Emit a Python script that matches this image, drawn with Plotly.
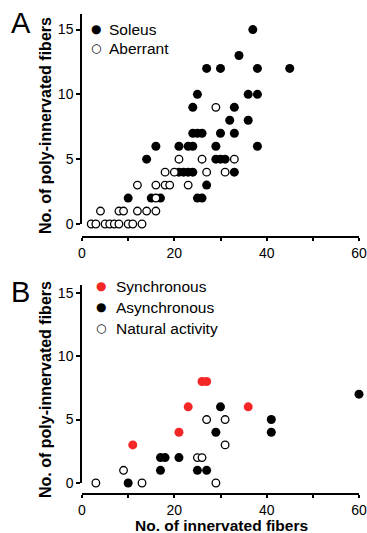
import plotly.graph_objects as go

# ---------------- Panel A data ----------------
soleus_x = [10, 15, 17, 25, 26,
            27,
            21, 22, 23, 24, 33,
            14, 29, 30, 31,
            16, 21, 23, 24, 29, 38,
            24, 25, 26, 30, 33,
            32, 36,
            24, 33,
            25, 36, 38,
            27, 30, 38, 45,
            34,
            37]
soleus_y = [2, 2, 2, 2, 2,
            3,
            4, 4, 4, 4, 4,
            5, 5, 5, 5,
            6, 6, 6, 6, 6, 6,
            7, 7, 7, 7, 7,
            8, 8,
            9, 9,
            10, 10, 10,
            12, 12, 12, 12,
            13,
            15]

aberrant_x = [2, 3, 5, 6, 7, 8, 10, 11, 13,
              4, 8, 9, 12, 14, 16,
              16,
              12, 16, 18, 19, 23,
              18, 20, 27, 31,
              21, 26, 33,
              29]
aberrant_y = [0, 0, 0, 0, 0, 0, 0, 0, 0,
              1, 1, 1, 1, 1, 1,
              2,
              3, 3, 3, 3, 3,
              4, 4, 4, 4,
              5, 5, 5,
              9]

# ---------------- Panel B data ----------------
sync_x = [11, 21, 23, 26, 27, 36]
sync_y = [3, 4, 6, 8, 8, 6]

async_x = [10, 17, 17, 18, 21, 25, 27, 29, 30, 41, 41, 60]
async_y = [0, 1, 2, 2, 2, 1, 1, 4, 6, 5, 4, 7]

natural_x = [3, 9, 13, 25, 26, 27, 29, 31, 31]
natural_y = [0, 1, 0, 2, 2, 5, 0, 3, 5]

# ---------------- ticks / labels ----------------
x_tickvals = [0, 10, 20, 30, 40, 50, 60]
x_ticktext = ["0", "", "20", "", "40", "", "60"]
y_tickvals = [0, 5, 10, 15]
y_title = "No. of poly-innervated fibers"
x_title = "No. of innervated fibers"
panel_labels = ["A", "B"]
legend_a_names = ["Soleus", "Aberrant"]
legend_b_names = ["Synchronous", "Asynchronous", "Natural activity"]

FONT = "Liberation Sans, Arial, sans-serif"
RED = "#f42626"

fig = go.Figure()

filled = dict(symbol="circle", size=9, color="black", line=dict(width=0))
opened = dict(symbol="circle", size=7.6, color="white", line=dict(color="black", width=1.3))
red = dict(symbol="circle", size=9, color=RED, line=dict(width=0))

fig.add_trace(go.Scatter(x=soleus_x, y=soleus_y, mode="markers", name=legend_a_names[0],
                         marker=filled, xaxis="x", yaxis="y", showlegend=False,
                         cliponaxis=False))
fig.add_trace(go.Scatter(x=aberrant_x, y=aberrant_y, mode="markers", name=legend_a_names[1],
                         marker=opened, xaxis="x", yaxis="y", showlegend=False,
                         cliponaxis=False))
fig.add_trace(go.Scatter(x=sync_x, y=sync_y, mode="markers", name=legend_b_names[0],
                         marker=red, xaxis="x2", yaxis="y2", showlegend=False,
                         cliponaxis=False))
fig.add_trace(go.Scatter(x=async_x, y=async_y, mode="markers", name=legend_b_names[1],
                         marker=filled, xaxis="x2", yaxis="y2", showlegend=False,
                         cliponaxis=False))
fig.add_trace(go.Scatter(x=natural_x, y=natural_y, mode="markers", name=legend_b_names[2],
                         marker=opened, xaxis="x2", yaxis="y2", showlegend=False,
                         cliponaxis=False))

H = 494.0  # plotting area height in px (t=0, b=39)
L, W = 82.0, 277.0


def fy(py):
    return (H - py) / H


def fx(px):
    return (px - L) / W


axis_common = dict(showline=True, linecolor="black", linewidth=1.5,
                   ticks="outside", ticklen=4, tickwidth=1.5, tickcolor="black",
                   showgrid=False, zeroline=False,
                   tickfont=dict(family=FONT, size=14, color="black"))

title_font = dict(family=FONT, size=16, color="black", weight="bold")

xa = dict(axis_common, range=[0, 60], domain=[0, 1], ticklen=3,
          tickmode="array", tickvals=x_tickvals, ticktext=x_ticktext)
ya = dict(axis_common, tickmode="array", tickvals=y_tickvals)

# legend built from text glyphs (symbol + label per entry)
legend_items = [
    ("●", "black", legend_a_names[0], 95.5, 107, 29.5),
    ("○", "black", legend_a_names[1], 95.5, 107, 48.5),
    ("●", RED, legend_b_names[0], 100.5, 114, 286),
    ("●", "black", legend_b_names[1], 100.5, 114, 307),
    ("○", "black", legend_b_names[2], 100.5, 114, 328),
]
annotations = []
for glyph, col, name, gx, tx, ty in legend_items:
    annotations.append(dict(text=glyph, x=fx(gx), y=fy(ty), xref="paper", yref="paper",
                            xanchor="center", yanchor="middle", showarrow=False,
                            font=dict(family="DejaVu Sans", size=12, color=col)))
    annotations.append(dict(text=name, x=fx(tx), y=fy(ty), xref="paper", yref="paper",
                            xanchor="left", yanchor="middle", showarrow=False,
                            font=dict(family=FONT, size=15.5, color="black")))
for lab, ly in zip(panel_labels, [23, 292]):
    annotations.append(dict(text=lab, x=fx(20.5), y=fy(ly), xref="paper", yref="paper",
                            xanchor="center", yanchor="middle", showarrow=False,
                            font=dict(family=FONT, size=29, color="black")))
# y-axis titles (one per panel), centred on each panel's axis block
for cy in [125.5, 389.5]:
    annotations.append(dict(text=y_title, x=fx(45.5), y=fy(cy), xref="paper", yref="paper",
                            xanchor="center", yanchor="middle", showarrow=False,
                            textangle=-90, font=title_font))
# x-axis title under panel B
annotations.append(dict(text=x_title, x=fx(221.5), y=fy(525), xref="paper", yref="paper",
                        xanchor="center", yanchor="middle", showarrow=False,
                        font=dict(title_font, size=15.5)))

fig.update_layout(
    width=367, height=533,
    margin=dict(l=82, r=8, t=0, b=39, autoexpand=False),
    paper_bgcolor="white", plot_bgcolor="white",
    font=dict(family=FONT, color="black"),
    showlegend=False,
    xaxis=dict(xa, anchor="free", position=fy(237)),
    yaxis=dict(ya, range=[0, 16.2], domain=[fy(224), fy(14)], anchor="x"),
    xaxis2=dict(xa, anchor="free", position=0),
    yaxis2=dict(ya, range=[0, 15.6], domain=[fy(483), fy(285)], anchor="x2"),
    annotations=annotations,
)

fig.write_html("out.html",
               config={"displayModeBar": False},
               post_script="document.body.style.margin='0';document.body.style.padding='0';")
